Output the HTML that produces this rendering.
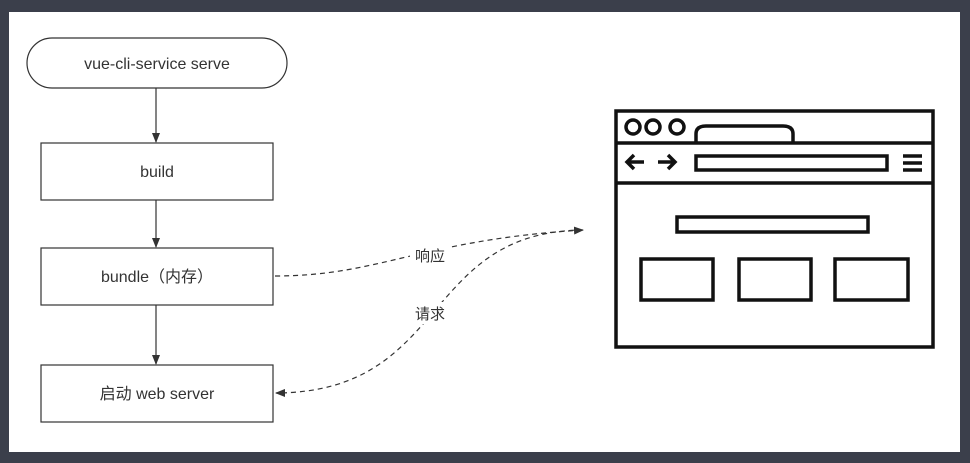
<!DOCTYPE html>
<html><head><meta charset="utf-8"><style>
html,body{margin:0;padding:0;background:#3b3f4b;}
svg{display:block;font-family:"Liberation Sans","Noto Sans CJK SC",sans-serif;}
</style></head><body>
<svg width="970" height="463" viewBox="0 0 970 463">
<defs><marker id="ah" markerWidth="10" markerHeight="8" refX="9" refY="4" orient="auto" markerUnits="userSpaceOnUse"><path d="M0,0 L10,4 L0,8 z" fill="#333"/></marker></defs>
<rect x="9" y="12" width="951" height="440" fill="#fff"/>
<g stroke="#333" stroke-width="1.2" fill="#fff">
<rect x="27" y="38" width="260" height="50" rx="25"/>
<rect x="41" y="143" width="232" height="57"/>
<rect x="41" y="248" width="232" height="57"/>
<rect x="41" y="365" width="232" height="57"/>
<line x1="156" y1="88" x2="156" y2="142" marker-end="url(#ah)"/>
<line x1="156" y1="200" x2="156" y2="247" marker-end="url(#ah)"/>
<line x1="156" y1="305" x2="156" y2="364" marker-end="url(#ah)"/>
<path d="M275,276 C380,276 420,240 583,230" fill="none" stroke-dasharray="5,4" marker-end="url(#ah)"/>
<path d="M583,230 C420,232 450,392 276,393" fill="none" stroke-dasharray="5,4" marker-end="url(#ah)"/>
</g>
<g font-size="16" fill="#333" text-anchor="middle">
<text x="157" y="69">vue-cli-service serve</text>
<text x="157" y="177">build</text>
<text x="157" y="282">bundle（内存）</text>
<text x="157" y="399">启动 web server</text>
<rect x="410" y="244" width="40" height="22" fill="#fff"/>
<text x="430" y="261" font-size="15">响应</text>
<rect x="410" y="302" width="40" height="22" fill="#fff"/>
<text x="430" y="319" font-size="15">请求</text>
</g>
<g stroke="#111" stroke-width="3.5" fill="none">
<rect x="616" y="111" width="317" height="236"/>
<line x1="616" y1="143" x2="933" y2="143"/>
<line x1="616" y1="183" x2="933" y2="183"/>
<circle cx="633" cy="127" r="7"/><circle cx="653" cy="127" r="7"/><circle cx="677" cy="127" r="7"/>
<path d="M696,143 V134 Q696,126 706,126 H783 Q793,126 793,134 V143"/>
<path d="M644,162 H628 M634,155 L627,162 L634,169"/>
<path d="M658,162 H674 M668,155 L675,162 L668,169"/>
<rect x="696" y="156" width="191" height="14"/>
<path d="M903,156 H922 M903,163 H922 M903,170 H922"/>
<rect x="677" y="217" width="191" height="15"/>
<rect x="641" y="259" width="72" height="41"/>
<rect x="739" y="259" width="72" height="41"/>
<rect x="835" y="259" width="73" height="41"/>
</g>
</svg>
</body></html>
